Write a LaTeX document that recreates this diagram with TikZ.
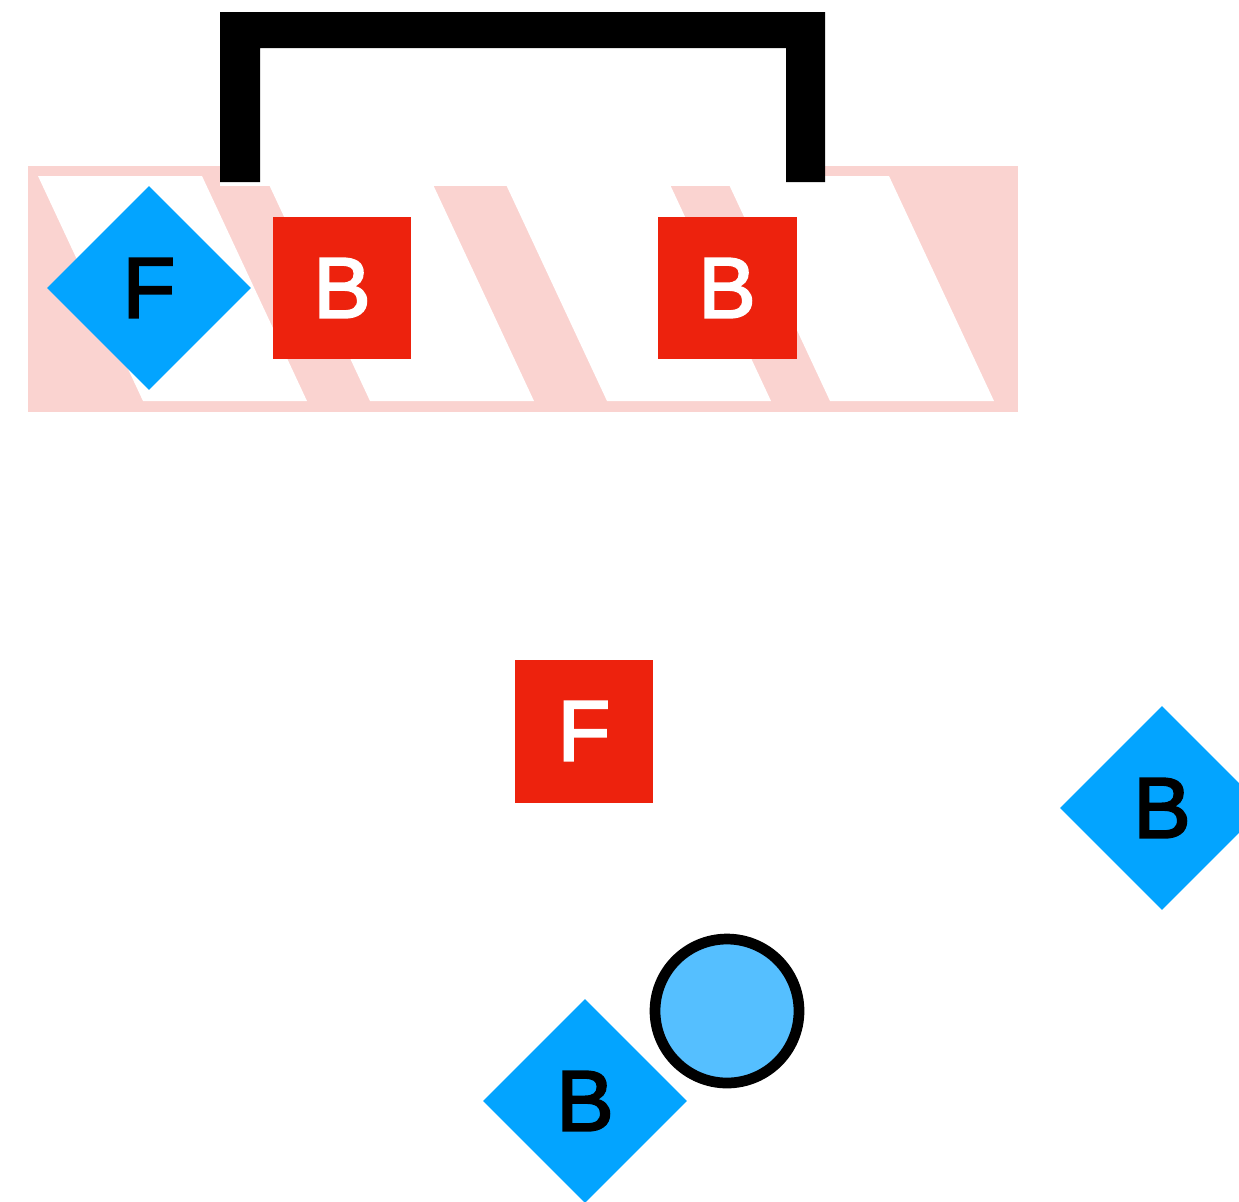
\documentclass[tikz,border=0pt]{standalone}
\usepackage{fontspec}
\setmainfont{Liberation Sans}
\newfontfamily\playerface[FakeBold=2.5]{Liberation Sans}
\usepackage{tikz}
\usetikzlibrary{shapes.geometric}
\definecolor{pitchpink}{HTML}{FAD3D0}
\definecolor{teamblue}{HTML}{03A4FF}
\definecolor{teamred}{HTML}{ED220D}
\definecolor{ballblue}{HTML}{55BFFF}

\begin{document}
\begin{tikzpicture}[
        x=0.02cm, y=-0.02cm,
        playerfont/.style={font=\playerface\fontsize{49}{58}\selectfont},
        bluediamond/.style={diamond, aspect=1, fill=teamblue, text=black, inner sep=0pt, minimum size=4.08cm, playerfont},
        redsquare/.style={rectangle, fill=teamred, text=white, inner sep=0pt, minimum width=2.78cm, minimum height=2.86cm, playerfont},
        ball/.style={circle, draw=black, line width=6.1pt, fill=ballblue, minimum size=2.88cm, inner sep=0pt}
    ]
        \clip (0,0) rectangle (1239,1201);
        \useasboundingbox (0,0) rectangle (1239,1201);
        % Striped box
        \fill[pitchpink] (28,166) rectangle (1018,412);
        \foreach \bx in {143,370,607,830}
            \fill[white] (\bx-105,176) -- (\bx+59,176) -- (\bx+164,401) -- (\bx,401) -- cycle;
        % Goal
        \fill[white] (220,12) rectangle (825,186);
        \fill[black] (220,182) -- (220,12) -- (825,12) -- (825,182) -- (786,182)
            -- (786,48) -- (260,48) -- (260,182) -- cycle;
        % Players
        \node[bluediamond] (f1) at (149,288) {F};
        \node[redsquare] (b1) at (342,288) {B};
        \node[redsquare] (b2) at (727,288) {B};
        \node[redsquare] (f2) at (584,731) {F};
        \node[bluediamond] (b3) at (1162,808) {B};
        \node[bluediamond] (b4) at (585,1101) {B};
        % Ball
        \node[ball] (ball) at (727,1011) {};
    \end{tikzpicture}
\end{document}
